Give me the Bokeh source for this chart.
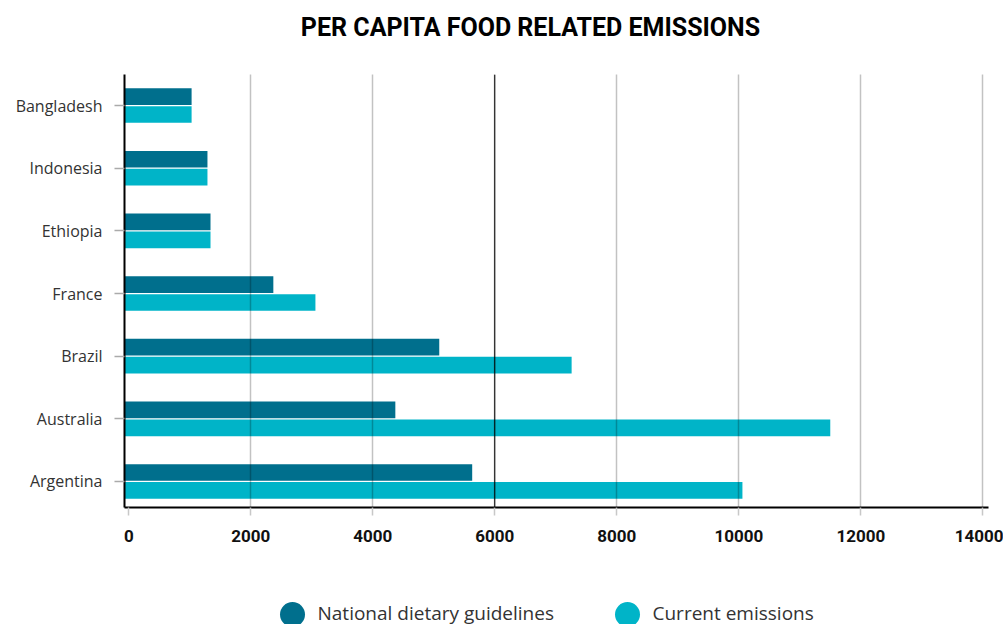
from bokeh.plotting import figure
from bokeh.layouts import column
from bokeh.models import ColumnDataSource, FixedTicker, Span
from bokeh.core.properties import value
from bokeh.embed import file_html
from bokeh.resources import INLINE

# ---------------- data ----------------
countries = ["Bangladesh", "Indonesia", "Ethiopia", "France", "Brazil",
             "Australia", "Argentina"]
guidelines = [1030, 1290, 1340, 2370, 5090, 4370, 5630]
current = [1030, 1290, 1340, 3060, 7260, 11500, 10060]
x_ticks = [0, 2000, 4000, 6000, 8000, 10000, 12000, 14000]
series_names = ["National dietary guidelines", "Current emissions"]
title_text = "PER CAPITA FOOD RELATED EMISSIONS"
ref_line = 6000

# ---------------- style ----------------
DARK = "#006f8d"
LIGHT = "#00b4c8"
SERIES_COLORS = [DARK, LIGHT]
COND = "Roboto"
X_START, X_END = -70, 14094
BAR_H = 0.266
OFF = 0.143
W = 1003
FL, FR = 124, 988          # frame left / right in page pixels
TOP_H = 74                 # title strip height
MAIN_H = 506               # chart height (frame + axis)
LEG_H = 624 - TOP_H - MAIN_H
LEG_CX = [292, 627]        # legend marker centres (px)
LEG_TEXT_DX = 25           # marker centre -> label start (px)

n = len(countries)
ypos = [n - 1 - i for i in range(n)]
src = ColumnDataSource(dict(
    yd=[y + OFF for y in ypos],
    yl=[y - OFF for y in ypos],
    g=guidelines,
    c=current,
))

# ---------------- title strip ----------------
tf = figure(width=W, height=TOP_H, x_range=(FL, FR), y_range=(0, TOP_H),
            output_backend="svg", toolbar_location=None,
            x_axis_type=None, y_axis_type=None, min_border_left=FL,
            min_border_right=W - FR, min_border_top=0, min_border_bottom=0)
tf.outline_line_color = None
tf.xgrid.visible = False
tf.ygrid.visible = False
tsrc = ColumnDataSource(dict(x=[530], y=[47], t=[title_text]))
tf.text(x="x", y="y", text="t", source=tsrc, text_font=value(COND),
        text_font_style="bold", text_font_size="25px", text_color="black",
        text_align="center", text_baseline="alphabetic")

# ---------------- main chart ----------------
p = figure(width=W, height=MAIN_H, x_range=(X_START, X_END),
           y_range=(-0.415, 6.495), output_backend="svg",
           toolbar_location=None, min_border_left=FL, min_border_right=W - FR,
           min_border_top=0, min_border_bottom=MAIN_H - 433)
p.outline_line_color = None
p.background_fill_color = "white"

p.hbar(y="yd", left=X_START, right="g", height=BAR_H, source=src,
       fill_color=DARK, line_color=None)
p.hbar(y="yl", left=X_START, right="c", height=BAR_H, source=src,
       fill_color=LIGHT, line_color=None)

# grid over bars
p.ygrid.visible = False
p.xgrid.ticker = FixedTicker(ticks=x_ticks[1:])
p.xgrid.level = "annotation"
p.xgrid.grid_line_color = "black"
p.xgrid.grid_line_alpha = 0.24
p.xgrid.grid_line_width = 1.5
p.add_layout(Span(location=ref_line, dimension="height", line_color="black",
                  line_width=1, level="annotation"))

# x axis
xa = p.xaxis[0]
xa.ticker = FixedTicker(ticks=x_ticks)
xa.axis_line_color = "black"
xa.axis_line_width = 2
xa.major_tick_out = 8
xa.major_tick_in = 0
xa.major_tick_line_color = "#c8c8c8"
xa.major_tick_line_width = 1.5
xa.minor_tick_line_color = None
xa.major_label_text_font = COND
xa.major_label_text_font_style = "bold"
xa.major_label_text_font_size = "17px"
xa.major_label_text_color = "#111111"
xa.major_label_standoff = 14

# y axis
ya = p.yaxis[0]
ya.ticker = FixedTicker(ticks=ypos)
ya.major_label_overrides = {y: c for y, c in zip(ypos, countries)}
ya.axis_line_color = "black"
ya.axis_line_width = 2
ya.major_tick_out = 10
ya.major_tick_in = 0
ya.major_tick_line_color = "#aaaaaa"
ya.major_tick_line_width = 1.5
ya.minor_tick_line_color = None
ya.major_label_text_font = "Open Sans"
ya.major_label_text_font_size = "16px"
ya.major_label_text_color = "#333333"
ya.major_label_standoff = 12

# ---------------- legend strip ----------------
lf = figure(width=W, height=LEG_H, x_range=(FL, FR), y_range=(0, LEG_H),
            output_backend="svg", toolbar_location=None,
            x_axis_type=None, y_axis_type=None, min_border_left=FL,
            min_border_right=W - FR, min_border_top=0, min_border_bottom=0)
lf.outline_line_color = None
lf.xgrid.visible = False
lf.ygrid.visible = False
leg = ColumnDataSource(dict(
    cx=LEG_CX,
    cy=[10, 10],
    tx=[c + LEG_TEXT_DX for c in LEG_CX],
    ty=[12, 12],
    label=series_names,
    color=SERIES_COLORS,
))
lf.scatter(x="cx", y="cy", source=leg, marker="circle", size=25,
           fill_color="color", line_color=None)
lf.text(x="tx", y="ty", text="label", source=leg, text_font=value("Open Sans"),
        text_font_size="19px", text_color="#333333", text_baseline="alphabetic",
        text_align="left")

layout = column(tf, p, lf, spacing=0)
open("out.html", "w").write(file_html(layout, INLINE))
